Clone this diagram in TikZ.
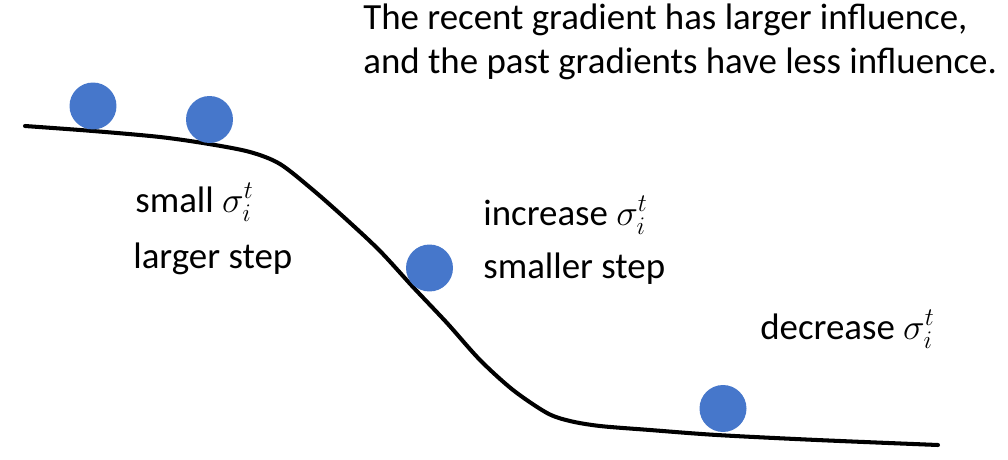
\documentclass[tikz,border=0pt]{standalone}
\usepackage{fontspec}
\setmainfont{Carlito}
\definecolor{ballblue}{HTML}{4677CB}
\begin{document}
\begin{tikzpicture}[x=0.02cm,y=-0.02cm,
  ball/.style={circle,fill=ballblue,minimum size=0.94cm,inner sep=0pt},
  lbl/.style={anchor=base west,inner sep=0pt,font=\fontsize{21}{25}\selectfont},
  slope/.style={line width=2.3pt,line cap=round}]
\useasboundingbox (0,0) rectangle (1008,460);
\draw[slope] plot[smooth,tension=0.5] coordinates{(25,126) (93,131) (160,137) (209,144) (250,152) (280,164) (313,190) (347,220) (380,251) (413,287) (447,323) (480,360) (513,390) (547,413) (570,421) (600,426) (650,430) (717,435) (817,440) (938,445)};
\node[ball] (b1) at (93,106) {};
\node[ball] (b2) at (209.5,119.5) {};
\node[ball] (b3) at (429.5,268) {};
\node[ball] (b4) at (723,408.5) {};
\node[lbl] (t1) at (363,29) {The recent gradient has larger influence,};
\node[lbl] (t2) at (363,73) {and the past gradients have less influence.};
\node[lbl] (s1) at (135,212) {small $\sigma_i^t$};
\node[lbl] (s2) at (133,268) {larger step};
\node[lbl] (i1) at (483,225) {increase $\sigma_i^t$};
\node[lbl] (i2) at (483,278) {smaller step};
\node[lbl] (d1) at (760,339) {decrease $\sigma_i^t$};
\end{tikzpicture}
\end{document}
